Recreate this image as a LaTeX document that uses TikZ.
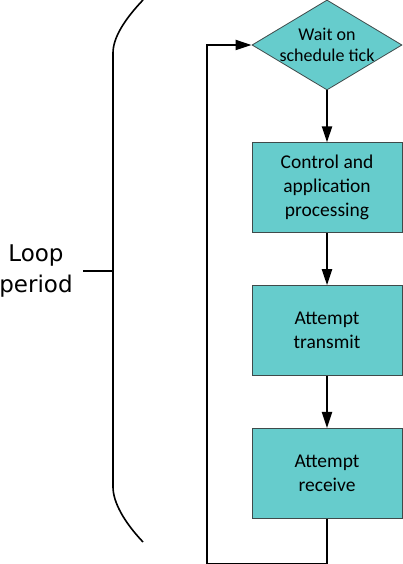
\documentclass[tikz,border=0pt]{standalone}
\usepackage{fontspec}
\setmainfont{Carlito}
\newfontfamily\bracefont{DejaVu Sans}
\usepackage{xcolor}
\definecolor{Teal}{HTML}{66CCCC}
\definecolor{Edge}{HTML}{3F4A4A}
\usepackage{tikz}
\usetikzlibrary{arrows.meta,positioning,shapes.geometric}
\tikzset{
  stepbox/.style={draw=Edge,fill=Teal,line width=.8pt,minimum width=150pt,
    minimum height=90pt,align=center,inner sep=2pt,
    font=\fontsize{19.5pt}{24pt}\selectfont},
  decision/.style={diamond,draw=Edge,fill=Teal,line width=.8pt,aspect=1.667,
    minimum width=150pt,minimum height=90pt,inner sep=-5pt,align=center,
    font=\fontsize{18pt}{21pt}\selectfont},
  arrow/.style={-{Triangle[length=16pt,width=10pt]},line width=2pt,draw=black},
  brace/.style={line width=1.6pt,draw=black},
  bracelabel/.style={align=center,font=\bracefont\fontsize{23pt}{31pt}\selectfont}
}
\begin{document}
\begin{tikzpicture}[x=1pt,y=1pt,node distance=52pt]
\useasboundingbox (0,0) rectangle (403,564);
% flow
\node[decision] (wait) at (327,519) {Wait on\\schedule tick};
\node[stepbox,below=of wait] (proc) {Control and\\application\\processing};
\node[stepbox,below=of proc] (tx) {Attempt\\transmit};
\node[stepbox,below=of tx] (rx) {Attempt\\receive};
\draw[arrow] (wait)--(proc);
\draw[arrow] (proc)--(tx);
\draw[arrow] (tx)--(rx);
\draw[arrow] (rx.south) -- ++(0,-45) -| ([xshift=-45pt]wait.west) -- (wait.west);
% brace
\draw[brace] (143,564) .. controls (124,544) and (113,526) .. (113,511)
  -- (113,77) .. controls (113,62) and (124,42) .. (143,22);
\node[bracelabel] (loop) at (36,293) {Loop\\period};
\draw[brace] (83,293) -- (113,293);
\end{tikzpicture}
\end{document}
